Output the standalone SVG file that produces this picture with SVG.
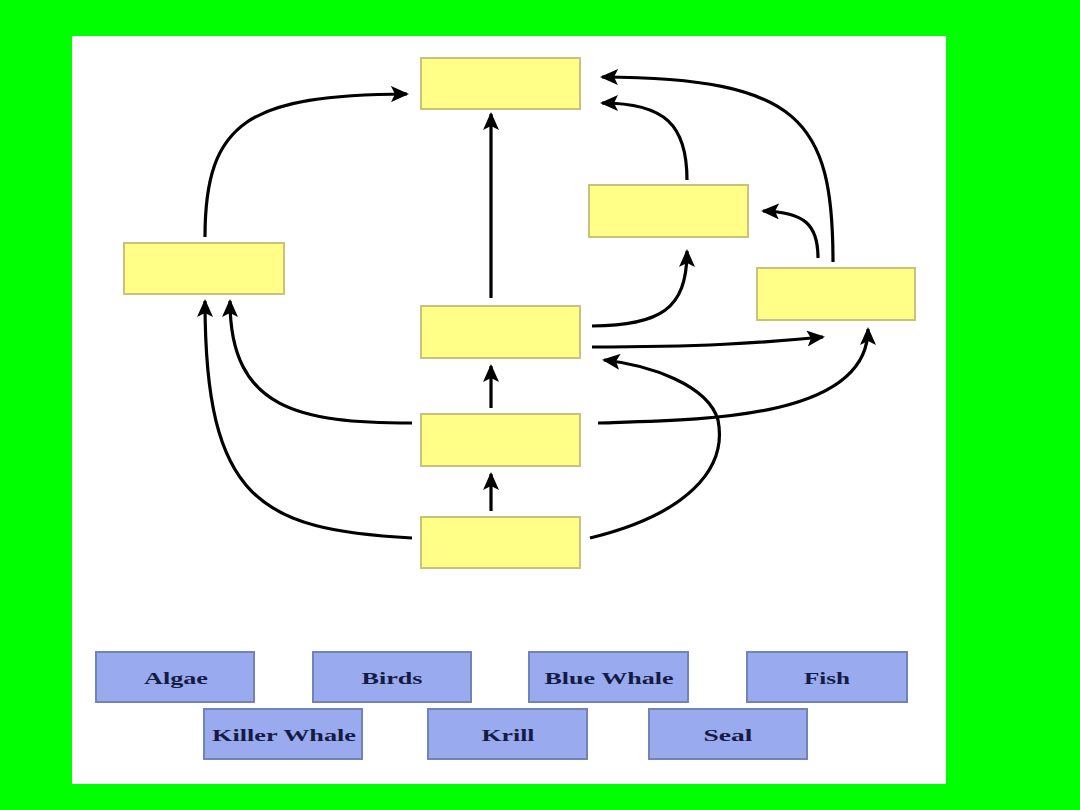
<svg xmlns="http://www.w3.org/2000/svg" width="1080" height="810" viewBox="0 0 1080 810">
<style>
.y{fill:#FFFF88;stroke:#C9C27A;stroke-width:2}
.b{fill:#99AAEE;stroke:#7383B8;stroke-width:2}
.t{font-family:"Liberation Serif",serif;font-weight:bold;font-size:17px;fill:#141C45;text-anchor:middle}
.c path{fill:none;stroke:#000;stroke-width:3.2;marker-end:url(#ah)}
</style>
<defs>
<marker id="ah" markerUnits="userSpaceOnUse" markerWidth="18" markerHeight="16" refX="16" refY="8" orient="auto">
<path d="M0,0 L18,8 L0,16 L4,8 Z" fill="#000"/>
</marker>
</defs>
<rect width="1080" height="810" fill="#00FF00"/>
<rect x="72" y="36" width="874" height="748" fill="#FFFFFF"/>
<g id="yellow-top"><rect class="y" x="421" y="58" width="159" height="51"/></g>
<g id="yellow-left"><rect class="y" x="124" y="243" width="160" height="51"/></g>
<g id="yellow-right-upper"><rect class="y" x="589" y="185" width="159" height="52"/></g>
<g id="yellow-right"><rect class="y" x="757" y="268" width="158" height="52"/></g>
<g id="yellow-middle"><rect class="y" x="421" y="306" width="159" height="52"/></g>
<g id="yellow-lower"><rect class="y" x="421" y="414" width="159" height="52"/></g>
<g id="yellow-bottom"><rect class="y" x="421" y="517" width="159" height="51"/></g>
<g class="c" id="connectors">
<path d="M205,237 C205,120 250,95 407,94"/>
<path d="M491,298 L491,114"/>
<path d="M687,180 C687,125 665,103 602,103"/>
<path d="M833,262 C833,120 800,78 602,77"/>
<path d="M818,258 C818,225 805,212 763,211"/>
<path d="M592,326 C660,325 687,310 687,251"/>
<path d="M592,347 C700,347 760,343 823,337"/>
<path d="M590,538 C685,515 728,470 718,420 C708,385 650,365 604,360"/>
<path d="M598,423 C700,420 868,420 868,329"/>
<path d="M412,423 C300,423 230,410 230,301"/>
<path d="M412,538 C260,530 205,500 205,301"/>
<path d="M491,408 L491,366"/>
<path d="M491,511 L491,474"/>
</g>
<g id="algae"><rect class="b" x="96" y="652" width="158" height="50"/><text class="t" x="176" y="684" textLength="64" lengthAdjust="spacingAndGlyphs">Algae</text></g>
<g id="birds"><rect class="b" x="313" y="652" width="158" height="50"/><text class="t" x="392" y="684" textLength="61" lengthAdjust="spacingAndGlyphs">Birds</text></g>
<g id="blue-whale"><rect class="b" x="529" y="652" width="159" height="50"/><text class="t" x="609" y="684" textLength="129" lengthAdjust="spacingAndGlyphs">Blue Whale</text></g>
<g id="fish"><rect class="b" x="747" y="652" width="160" height="50"/><text class="t" x="827" y="684" textLength="46" lengthAdjust="spacingAndGlyphs">Fish</text></g>
<g id="killer-whale"><rect class="b" x="204" y="709" width="158" height="50"/><text class="t" x="284" y="741" textLength="144" lengthAdjust="spacingAndGlyphs">Killer Whale</text></g>
<g id="krill"><rect class="b" x="428" y="709" width="159" height="50"/><text class="t" x="508" y="741" textLength="53" lengthAdjust="spacingAndGlyphs">Krill</text></g>
<g id="seal"><rect class="b" x="649" y="709" width="158" height="50"/><text class="t" x="728" y="741" textLength="49" lengthAdjust="spacingAndGlyphs">Seal</text></g>
</svg>
